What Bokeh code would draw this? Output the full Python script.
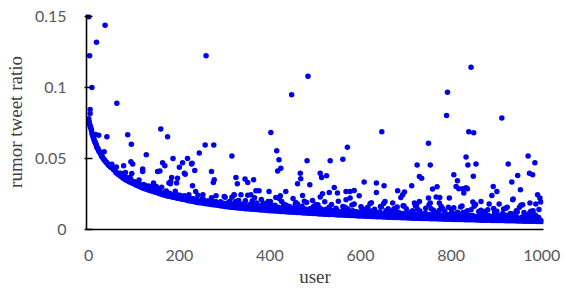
from bokeh.plotting import figure
from bokeh.models import Range1d, FixedTicker
from bokeh.embed import file_html
from bokeh.resources import INLINE

# ---------------- data ----------------
# lower envelope of the dense band, users 0..1000 every 5 users
users_env = list(range(0, 1001, 5))
ratio_env = [
    0.0780, 0.0710, 0.0650, 0.0610, 0.0570, 0.0540, 0.0510, 0.0490, 0.0470, 0.0450,
    0.0435, 0.0420, 0.0400, 0.0388, 0.0375, 0.0363, 0.0352, 0.0343, 0.0335, 0.0327,
    0.0320, 0.0312, 0.0304, 0.0297, 0.0291, 0.0285, 0.0280, 0.0274, 0.0269, 0.0264,
    0.0260, 0.0254, 0.0248, 0.0243, 0.0239, 0.0235, 0.0232, 0.0228, 0.0225, 0.0221,
    0.0218, 0.0214, 0.0211, 0.0207, 0.0203, 0.0200, 0.0197, 0.0194, 0.0191, 0.0188,
    0.0186, 0.0184, 0.0181, 0.0179, 0.0177, 0.0175, 0.0172, 0.0170, 0.0167, 0.0165,
    0.0162, 0.0160, 0.0159, 0.0157, 0.0155, 0.0154, 0.0152, 0.0150, 0.0149, 0.0147,
    0.0146, 0.0145, 0.0143, 0.0142, 0.0141, 0.0139, 0.0138, 0.0137, 0.0135, 0.0134,
    0.0133, 0.0132, 0.0131, 0.0130, 0.0128, 0.0127, 0.0126, 0.0125, 0.0124, 0.0123,
    0.0122, 0.0121, 0.0120, 0.0119, 0.0118, 0.0117, 0.0116, 0.0115, 0.0114, 0.0113,
    0.0112, 0.0111, 0.0110, 0.0109, 0.0108, 0.0107, 0.0106, 0.0106, 0.0105, 0.0104,
    0.0103, 0.0102, 0.0102, 0.0101, 0.0100, 0.0099, 0.0099, 0.0098, 0.0097, 0.0096,
    0.0096, 0.0095, 0.0094, 0.0093, 0.0093, 0.0092, 0.0091, 0.0090, 0.0090, 0.0089,
    0.0088, 0.0088, 0.0087, 0.0086, 0.0086, 0.0085, 0.0084, 0.0084, 0.0083, 0.0083,
    0.0082, 0.0081, 0.0081, 0.0080, 0.0080, 0.0079, 0.0079, 0.0078, 0.0078, 0.0077,
    0.0077, 0.0076, 0.0076, 0.0075, 0.0075, 0.0074, 0.0074, 0.0073, 0.0073, 0.0072,
    0.0072, 0.0071, 0.0071, 0.0070, 0.0070, 0.0070, 0.0069, 0.0069, 0.0068, 0.0068,
    0.0068, 0.0067, 0.0067, 0.0066, 0.0066, 0.0066, 0.0065, 0.0065, 0.0064, 0.0064,
    0.0064, 0.0063, 0.0063, 0.0063, 0.0062, 0.0062, 0.0061, 0.0061, 0.0061, 0.0060,
    0.0060, 0.0060, 0.0059, 0.0059, 0.0059, 0.0058, 0.0058, 0.0058, 0.0057, 0.0057,
    0.0057]

# steep head of the curve (first users)
users_head = [1, 2, 3, 4, 6, 7, 8, 9, 11, 12, 13, 14, 16, 17, 18, 19, 21, 22, 23, 24,
              27, 29, 32, 34, 37, 39, 42, 44, 47, 49]
ratio_head = [0.076, 0.074, 0.073, 0.072, 0.070, 0.068, 0.067, 0.066, 0.064, 0.063,
              0.062, 0.0615, 0.060, 0.059, 0.058, 0.0575, 0.0563, 0.0555, 0.055, 0.0545,
              0.0525, 0.0515, 0.050, 0.049, 0.048, 0.0472, 0.046, 0.0455, 0.0445, 0.0438]

# dense band just above the envelope (layer A)
users_band_a = list(range(53, 1000, 5))
ratio_band_a = [
    0.0437, 0.0430, 0.0399, 0.0397, 0.0395, 0.0365, 0.0366, 0.0343, 0.0354, 0.0337,
    0.0323, 0.0326, 0.0311, 0.0315, 0.0293, 0.0299, 0.0303, 0.0280, 0.0286, 0.0267,
    0.0280, 0.0264, 0.0253, 0.0260, 0.0248, 0.0255, 0.0235, 0.0243, 0.0250, 0.0228,
    0.0236, 0.0217, 0.0233, 0.0219, 0.0209, 0.0217, 0.0206, 0.0214, 0.0195, 0.0204,
    0.0212, 0.0191, 0.0200, 0.0183, 0.0200, 0.0187, 0.0179, 0.0187, 0.0177, 0.0185,
    0.0177, 0.0190, 0.0167, 0.0180, 0.0193, 0.0166, 0.0180, 0.0157, 0.0182, 0.0167,
    0.0156, 0.0171, 0.0159, 0.0172, 0.0149, 0.0163, 0.0175, 0.0149, 0.0164, 0.0141,
    0.0167, 0.0152, 0.0141, 0.0156, 0.0144, 0.0158, 0.0135, 0.0149, 0.0162, 0.0136,
    0.0151, 0.0128, 0.0154, 0.0139, 0.0129, 0.0144, 0.0132, 0.0146, 0.0123, 0.0137,
    0.0150, 0.0124, 0.0139, 0.0116, 0.0142, 0.0127, 0.0117, 0.0133, 0.0121, 0.0135,
    0.0112, 0.0126, 0.0140, 0.0114, 0.0129, 0.0106, 0.0133, 0.0118, 0.0108, 0.0123,
    0.0112, 0.0126, 0.0103, 0.0117, 0.0131, 0.0105, 0.0120, 0.0097, 0.0124, 0.0109,
    0.0099, 0.0115, 0.0103, 0.0117, 0.0095, 0.0109, 0.0122, 0.0097, 0.0112, 0.0090,
    0.0116, 0.0101, 0.0092, 0.0107, 0.0096, 0.0110, 0.0088, 0.0102, 0.0116, 0.0090,
    0.0106, 0.0083, 0.0110, 0.0095, 0.0086, 0.0101, 0.0090, 0.0104, 0.0082, 0.0096,
    0.0110, 0.0084, 0.0100, 0.0077, 0.0104, 0.0089, 0.0080, 0.0095, 0.0084, 0.0099,
    0.0076, 0.0091, 0.0104, 0.0079, 0.0095, 0.0072, 0.0099, 0.0084, 0.0075, 0.0091,
    0.0079, 0.0094, 0.0072, 0.0086, 0.0100, 0.0074, 0.0090, 0.0068, 0.0094, 0.0080,
    0.0071, 0.0086, 0.0075, 0.0090, 0.0067, 0.0082, 0.0096, 0.0070, 0.0086, 0.0064]

# band layer B
users_band_b = list(range(51, 1000, 10))
ratio_band_b = [
    0.0460, 0.0440, 0.0394, 0.0401, 0.0366, 0.0336, 0.0349, 0.0314, 0.0306, 0.0310,
    0.0280, 0.0298, 0.0271, 0.0249, 0.0270, 0.0241, 0.0238, 0.0244, 0.0217, 0.0241,
    0.0219, 0.0199, 0.0223, 0.0196, 0.0195, 0.0227, 0.0198, 0.0243, 0.0204, 0.0180,
    0.0242, 0.0203, 0.0187, 0.0212, 0.0163, 0.0198, 0.0171, 0.0216, 0.0178, 0.0155,
    0.0218, 0.0180, 0.0164, 0.0190, 0.0142, 0.0177, 0.0150, 0.0196, 0.0158, 0.0136,
    0.0199, 0.0162, 0.0146, 0.0173, 0.0125, 0.0161, 0.0134, 0.0181, 0.0143, 0.0121,
    0.0184, 0.0147, 0.0132, 0.0158, 0.0111, 0.0147, 0.0121, 0.0168, 0.0131, 0.0109,
    0.0173, 0.0136, 0.0121, 0.0148, 0.0101, 0.0137, 0.0111, 0.0158, 0.0121, 0.0099,
    0.0163, 0.0126, 0.0112, 0.0139, 0.0092, 0.0128, 0.0103, 0.0150, 0.0113, 0.0091,
    0.0156, 0.0119, 0.0104, 0.0132, 0.0085]

# band layer C
users_band_c = list(range(306, 1000, 10))
ratio_band_c = [
    0.0182, 0.0227, 0.0199, 0.0160, 0.0203, 0.0177, 0.0224, 0.0157, 0.0185, 0.0197,
    0.0159, 0.0151, 0.0197, 0.0170, 0.0133, 0.0177, 0.0152, 0.0199, 0.0133, 0.0162,
    0.0174, 0.0136, 0.0129, 0.0176, 0.0149, 0.0112, 0.0157, 0.0132, 0.0180, 0.0114,
    0.0144, 0.0157, 0.0119, 0.0113, 0.0159, 0.0133, 0.0097, 0.0141, 0.0117, 0.0165,
    0.0100, 0.0130, 0.0142, 0.0105, 0.0099, 0.0146, 0.0120, 0.0084, 0.0129, 0.0105,
    0.0153, 0.0088, 0.0119, 0.0132, 0.0095, 0.0089, 0.0136, 0.0111, 0.0075, 0.0120,
    0.0096, 0.0145, 0.0080, 0.0110, 0.0123, 0.0087, 0.0081, 0.0128, 0.0103, 0.0067]

# band layer D (thicker right part)
users_band_d = list(range(604, 1000, 10))
ratio_band_d = [
    0.0100, 0.0144, 0.0188, 0.0116, 0.0162, 0.0198, 0.0125, 0.0147, 0.0099, 0.0167,
    0.0086, 0.0131, 0.0175, 0.0104, 0.0150, 0.0187, 0.0114, 0.0136, 0.0089, 0.0157,
    0.0076, 0.0121, 0.0165, 0.0094, 0.0140, 0.0177, 0.0104, 0.0127, 0.0080, 0.0148,
    0.0067, 0.0113, 0.0157, 0.0086, 0.0132, 0.0170, 0.0097, 0.0119, 0.0073, 0.0141]

# scattered users well above the band
users_out = [
    0, 36, 17, 2, 259, 7, 62, 3, 3, 484, 448, 844, 792, 790, 912,
    159, 86, 40, 174, 22, 15, 94, 257, 276, 127, 244, 316, 34, 93, 97,
    77, 55, 163, 168, 186, 218, 200, 119, 119, 157, 228, 211, 183, 180, 196,
    194, 271, 277, 275, 95, 124, 143, 149, 229, 236, 252, 281, 299,
    402, 647, 415, 420, 424, 417, 571, 561, 533, 482, 467, 468, 511, 514, 525,
    488, 461, 325, 328, 345, 351, 364, 321, 336, 358, 369, 376, 398, 435, 413,
    423, 472, 457, 494, 516, 511, 531, 542, 549, 568, 577, 586, 568, 577, 597,
    608, 635, 635, 652,
    839, 850, 750, 833, 970, 725, 754, 837, 855, 926, 985, 730, 735, 806, 849,
    814, 811, 817, 833, 828, 947, 934, 973, 980, 953, 936, 893, 901, 890, 866,
    713, 759, 769, 682, 693, 689, 750, 767, 775, 796, 848, 991, 996, 998, 987,
    671, 719, 730, 774, 778, 884, 906, 974, 958,
    207, 213, 227, 234, 152, 177, 181, 122, 836, 825, 697, 937]
ratio_out = [
    0.150, 0.144, 0.132, 0.1225, 0.1225, 0.100, 0.089, 0.0845, 0.0817, 0.108, 0.095, 0.1143, 0.0968, 0.0803, 0.0786,
    0.0709, 0.0667, 0.0653, 0.0653, 0.0665, 0.067, 0.060, 0.0595, 0.0595, 0.0527, 0.0539, 0.0518, 0.0548, 0.0478, 0.0462,
    0.045, 0.0436, 0.047, 0.045, 0.050, 0.050, 0.0439, 0.0427, 0.0408, 0.0413, 0.0467, 0.0397, 0.0366, 0.0322, 0.0362,
    0.0327, 0.0408, 0.035, 0.0331, 0.0394, 0.031, 0.0327, 0.0303, 0.0308, 0.0268, 0.0245, 0.0238, 0.0233,
    0.0684, 0.0688, 0.0555, 0.0492, 0.0432, 0.0413, 0.0579, 0.0495, 0.0485, 0.0485, 0.0397, 0.0357, 0.0397, 0.0366, 0.0378,
    0.0315, 0.0322, 0.0366, 0.0322, 0.0355, 0.0331, 0.035, 0.0245, 0.0245, 0.0245, 0.0273, 0.0273, 0.0268, 0.0268, 0.0226,
    0.0238, 0.024, 0.0191, 0.0205, 0.0252, 0.0229, 0.0261, 0.0296, 0.0257, 0.0268, 0.0268, 0.0275, 0.021, 0.0222, 0.0238,
    0.0334, 0.0327, 0.0261, 0.0308,
    0.0688, 0.0681, 0.0607, 0.0511, 0.0518, 0.0455, 0.0455, 0.0455, 0.0462, 0.0462, 0.0471, 0.0373, 0.0362, 0.0385, 0.0376,
    0.0343, 0.0303, 0.0287, 0.0294, 0.0257, 0.038, 0.0334, 0.0397, 0.0385, 0.028, 0.021, 0.0303, 0.0268, 0.024, 0.0198,
    0.0308, 0.0285, 0.0301, 0.0273, 0.0245, 0.0226, 0.0222, 0.0229, 0.0226, 0.0222, 0.0194, 0.0245, 0.0222, 0.0194, 0.018,
    0.0187, 0.0187, 0.0198, 0.0187, 0.0163, 0.018, 0.018, 0.0187, 0.0175,
    0.0471, 0.039, 0.0462, 0.0415, 0.0408, 0.0327, 0.0338, 0.0315, 0.0287, 0.0287, 0.0264, 0.0215]

x_ticks = [0, 200, 400, 600, 800, 1000]
y_ticks = [0, 0.05, 0.1, 0.15]
y_tick_labels = ["0", "0.05", "0.1", "0.15"]
x_title = "user"
y_title = "rumor tweet ratio"

# ---------------- figure ----------------
DOT = "#0000F0"
p = figure(width=564, height=289, output_backend="svg", toolbar_location=None,
           x_range=Range1d(-5, 1004), y_range=Range1d(0, 0.1515),
           min_border_left=86, min_border_right=21, min_border_top=14, min_border_bottom=59)
p.outline_line_color = None
p.xgrid.visible = False
p.ygrid.visible = False
p.background_fill_color = "white"

for xs, ys in [(users_env, ratio_env), (users_head, ratio_head), (users_band_a, ratio_band_a),
               (users_band_b, ratio_band_b), (users_band_c, ratio_band_c),
               (users_band_d, ratio_band_d), (users_out, ratio_out)]:
    p.scatter(x=xs, y=ys, size=5.5, fill_color=DOT, line_color=None)

TICK_FONT = "Lato"
for ax in (p.xaxis[0], p.yaxis[0]):
    ax.axis_line_color = "black"
    ax.axis_line_width = 1.6
    ax.minor_tick_line_color = None
    ax.major_label_text_font = TICK_FONT
    ax.major_label_text_font_size = "16px"
    ax.major_label_text_color = "#595959"
    ax.axis_label_text_font = "Liberation Serif"
    ax.axis_label_text_font_size = "19px"
    ax.axis_label_text_font_style = "normal"
    ax.axis_label_text_color = "#404040"

p.xaxis.ticker = FixedTicker(ticks=x_ticks)
p.xaxis.major_tick_line_color = None
p.xaxis.major_label_standoff = 14
p.xaxis.axis_label = x_title
p.xaxis.axis_label_standoff = 2

p.yaxis.ticker = FixedTicker(ticks=y_ticks)
p.yaxis.major_label_overrides = {t: s for t, s in zip(y_ticks, y_tick_labels)}
p.yaxis.major_tick_line_color = "black"
p.yaxis.major_tick_line_width = 1.5
p.yaxis.major_tick_in = 6
p.yaxis.major_tick_out = 2
p.yaxis.major_label_standoff = 18
p.yaxis.axis_label = y_title
p.yaxis.axis_label_standoff = 6

open("out.html", "w").write(file_html(p, INLINE))
